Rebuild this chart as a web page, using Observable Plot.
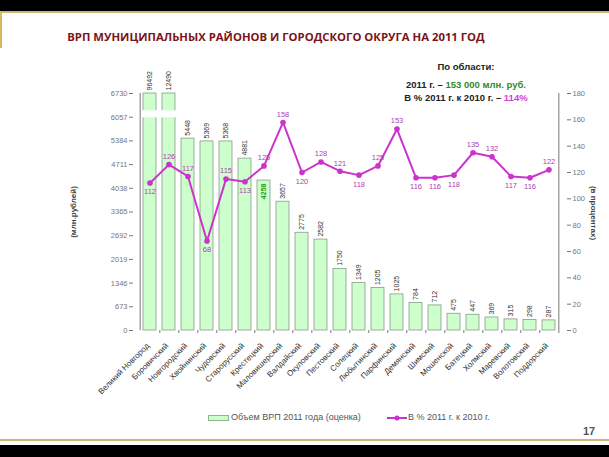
<!DOCTYPE html>
<html><head><meta charset="utf-8">
<script src="https://cdn.jsdelivr.net/npm/d3@7"></script>
<script src="https://cdn.jsdelivr.net/npm/@observablehq/plot@0.6"></script>
<style>
body{margin:0;background:#fff;}
#wrap{position:relative;width:609px;height:457px;overflow:hidden;font-family:"Liberation Sans",Arial,sans-serif;background:#fff;}
#chart{position:absolute;left:0;top:0;}
.abs{position:absolute;}
#topband{left:0;top:0;width:609px;height:11px;background:#000;}
#topline{left:0;top:11px;width:609px;height:2px;background:#cdb57a;}
#leftline{left:0;top:12px;width:2px;height:36px;background:#d8b860;}
#botline{left:0;top:439px;width:609px;height:2px;background:#cdb57a;}
#botband{left:0;top:445px;width:609px;height:12px;background:#000;}
#title{left:0;width:552px;top:29px;text-align:center;font-family:"Open Sans",sans-serif;font-weight:700;font-size:11.3px;color:#7b1418;white-space:nowrap;}
.note{width:200px;left:366px;text-align:center;font-weight:700;font-size:9.5px;color:#222;white-space:nowrap;}
#ytitleL{left:73px;top:212px;transform:translate(-50%,-50%) rotate(-90deg);font-size:8px;font-weight:700;color:#444;white-space:nowrap;}
#ytitleR{left:593px;top:213px;transform:translate(-50%,-50%) rotate(90deg);font-size:8px;font-weight:700;color:#444;white-space:nowrap;}
.leg{top:412px;font-size:9px;color:#555;white-space:nowrap;}
#page{left:583px;top:425px;font-size:11px;font-weight:700;color:#555;}
</style></head><body>
<div id="wrap">
  <div id="chart"></div>
  <div class="abs" id="topband"></div>
  <div class="abs" id="topline"></div>
  <div class="abs" id="leftline"></div>
  <div class="abs" id="botline"></div>
  <div class="abs" id="botband"></div>
  <div class="abs" id="title">ВРП МУНИЦИПАЛЬНЫХ РАЙОНОВ И ГОРОДСКОГО ОКРУГА НА 2011 ГОД</div>
  <div class="abs note" style="top:61px;">По области:</div>
  <div class="abs note" style="top:79px;">2011 г. – <span style="color:#2f8a2f">153 000 млн. руб.</span></div>
  <div class="abs note" style="top:92px;">В % 2011 г. к 2010 г. – <span style="color:#d040d0">114%</span></div>
  <div class="abs" id="ytitleL">(млн.рублей)</div>
  <div class="abs" id="ytitleR">(в процентах)</div>
  <div class="abs leg" style="left:208px;"><span style="display:inline-block;width:19px;height:4px;background:#ccffcc;border:1px solid #88bb88;vertical-align:middle;margin-right:2px;"></span>Объем ВРП 2011 года (оценка)</div>
  <div class="abs leg" style="left:387px;"><svg width="20" height="8" style="vertical-align:middle;margin-right:1px;"><line x1="0" y1="4" x2="20" y2="4" stroke="#cc33cc" stroke-width="2"/><circle cx="10" cy="4" r="2.5" fill="#cc33cc"/></svg>В % 2011 г. к 2010 г.</div>
  <div class="abs" id="page">17</div>
</div>
<script>
const districts = ["Великий Новгород","Боровичский","Новгородский","Хвойнинский","Чудовский","Старорусский","Крестецкий","Маловишерский","Валдайский","Окуловский","Пестовский","Солецкий","Любытинский","Парфинский","Демянский","Шимский","Мошенской","Батецкий","Холмский","Маревский","Волотовский","Поддорский"];
const grpValues = [96492,12490,5448,5369,5368,4881,4258,3657,2775,2582,1750,1349,1205,1025,784,712,475,447,369,315,298,287];
const pctValues = [112,126,117,68,115,113,125,158,120,128,121,118,125,153,116,116,118,135,132,117,116,122];
const pctLabelPos = ["below","above","above","below","above","below","above","above","below","above","above","below","above","above","below","below","below","above","above","below","below","above"];
const insideLabelDistricts = ["Крестецкий"];
const leftTicks = [0,673,1346,2019,2692,3365,4038,4711,5384,6057,6730];
const rightTicks = [0,20,40,60,80,100,120,140,160,180];
const breakRange = [6040,6240];

const yMax = leftTicks[leftTicks.length-1];
const pMax = rightTicks[rightTicks.length-1];
const k = yMax / pMax;
const data = districts.map((name,i)=>({name, v: grpValues[i], p: pctValues[i], pos: pctLabelPos[i]}));

const W=609, H=457, mL=133, mR=43, mT=93, mB=127;
const step = (W-mL-mR)/districts.length;
const grey = "#777";

const plot = Plot.plot({
  width: W, height: H,
  marginLeft: mL, marginRight: mR, marginTop: mT, marginBottom: mB,
  style: {fontFamily: "'Liberation Sans', Arial, sans-serif", background: "transparent", overflow: "visible"},
  x: {type: "band", domain: districts, paddingInner: 0.3, paddingOuter: 0.15, axis: null},
  y: {domain: [0, yMax], axis: null},
  marks: [
    Plot.barY(data, {x: "name", y: d => Math.min(d.v, yMax), fill: "#ccffcc", stroke: "#8a9a8a", strokeWidth: 0.8}),
    Plot.barY(data.filter(d => d.v > yMax), {x: "name", y1: breakRange[0], y2: breakRange[1], fill: "#fff", insetLeft: -3, insetRight: -3}),
    Plot.text(data.filter(d => !insideLabelDistricts.includes(d.name)), {x: "name", y: d => Math.min(d.v, yMax), text: d => String(d.v), rotate: -90, textAnchor: "start", dy: -3, fontSize: 7, fill: "#333"}),
    Plot.text(data.filter(d => insideLabelDistricts.includes(d.name)), {x: "name", y: d => d.v, text: d => String(d.v), rotate: -90, textAnchor: "end", dy: 3, fontSize: 7, fill: "#1f9a1f", fontWeight: "bold"}),
    Plot.ruleX([districts[0]], {x: d => d, y1: 0, y2: yMax, dx: -step/2, stroke: grey}),
    Plot.ruleX([districts[districts.length-1]], {x: d => d, y1: 0, y2: yMax, dx: step/2, stroke: grey}),
    Plot.ruleX(districts, {x: d => d, y1: 0, y2: -85, dx: step/2, stroke: grey}),
    Plot.axisY({ticks: leftTicks, tickSize: 4, tickPadding: 2, tickFormat: d => String(d), fontSize: 7.5, color: grey, label: null}),
    Plot.axisY({anchor: "right", ticks: rightTicks.map(v => v*k), tickSize: 4, tickPadding: 2, tickFormat: d => String(Math.round(d/k)), fontSize: 7.5, color: grey, label: null}),
    Plot.line(data, {x: "name", y: d => d.p*k, stroke: "#cc33cc", strokeWidth: 2}),
    Plot.dot(data, {x: "name", y: d => d.p*k, r: 2.8, fill: "#cc33cc"}),
    Plot.text(data.filter(d => d.pos === "above"), {x: "name", y: d => d.p*k, text: d => String(d.p), dy: -8, fontSize: 7.5, fill: "#b040b0"}),
    Plot.text(data.filter(d => d.pos === "below"), {x: "name", y: d => d.p*k, text: d => String(d.p), dy: 9, fontSize: 7.5, fill: "#b040b0"}),
    Plot.text(districts, {x: d => d, y: 0, text: d => d, rotate: -45, textAnchor: "end", dx: -2, dy: 14, fontSize: 8, fill: "#333"})
  ]
});
document.getElementById("chart").appendChild(plot);
</script>
</body></html>
